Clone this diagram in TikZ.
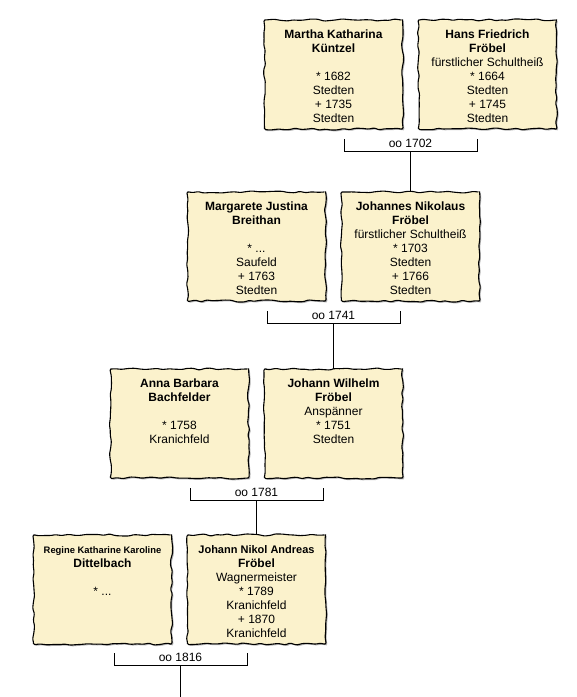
\documentclass[tikz,border=0pt]{standalone}
\usepackage{fontspec}
\setmainfont{Liberation Sans}
\usetikzlibrary{decorations.pathmorphing,shadows}
\definecolor{parch}{HTML}{FBF2CC}
\newcommand{\parchtext}[1]{\parbox[c][109pt][t]{138pt}{\centering\fontsize{12}{14}\selectfont\rule{0pt}{18.5pt}#1}}
\tikzset{
  person/.style={rectangle, draw=black, line width=1.1pt, fill=parch,
    inner sep=0pt, outer sep=0pt,
    decorate, decoration={random steps, segment length=6pt, amplitude=1.1pt},
    rounded corners=1.2pt,
    drop shadow={shadow xshift=1.3pt, shadow yshift=-1.3pt, opacity=0.3, fill=black}},
  bracket/.style={draw=black, line width=0.8pt},
  marr/.style={anchor=base, inner sep=0pt, font=\fontsize{12}{14}\selectfont}
}
\begin{document}
\begin{tikzpicture}[x=1pt, y=-1pt]
\pgfmathsetseed{4711}
\useasboundingbox (0,0) rectangle (577,697);
% row 1 (top 20)
\node[person] (martha) at (333.5,74.5) {\parchtext{\textbf{Martha Katharina}\\\textbf{Küntzel}\\\mbox{}\\{*} 1682\\Stedten\\+ 1735\\Stedten}};
\node[person] (hans) at (487.5,74.5) {\parchtext{\textbf{Hans Friedrich}\\\textbf{Fröbel}\\fürstlicher Schultheiß\\{*} 1664\\Stedten\\+ 1745\\Stedten}};
% row 2 (top 192)
\node[person] (margarete) at (256.5,246.5) {\parchtext{\textbf{Margarete Justina}\\\textbf{Breithan}\\\mbox{}\\{*} ...\\Saufeld\\+ 1763\\Stedten}};
\node[person] (johannes) at (410.5,246.5) {\parchtext{\textbf{Johannes Nikolaus}\\\textbf{Fröbel}\\fürstlicher Schultheiß\\{*} 1703\\Stedten\\+ 1766\\Stedten}};
% row 3 (top 369)
\node[person] (anna) at (179.5,423.5) {\parchtext{\textbf{Anna Barbara}\\\textbf{Bachfelder}\\\mbox{}\\{*} 1758\\Kranichfeld}};
\node[person] (wilhelm) at (333.5,423.5) {\parchtext{\textbf{Johann Wilhelm}\\\textbf{Fröbel}\\Anspänner\\{*} 1751\\Stedten}};
% row 4 (top 535)
\node[person] (regine) at (102.5,589.5) {\parchtext{{\fontsize{9.4}{14}\selectfont\textbf{Regine Katharine Karoline}}\\\textbf{Dittelbach}\\\mbox{}\\{*} ...}};
\node[person] (nikol) at (256.5,589.5) {\parchtext{{\fontsize{11}{14}\selectfont\textbf{Johann Nikol Andreas}}\\\textbf{Fröbel}\\Wagnermeister\\{*} 1789\\Kranichfeld\\+ 1870\\Kranichfeld}};
% marriage brackets
\coordinate (b1l) at (344,139); \coordinate (b1r) at (477,139); \coordinate (b1m) at (410.5,151);
\coordinate (b2l) at (267,311); \coordinate (b2r) at (400,311); \coordinate (b2m) at (333.5,323);
\coordinate (b3l) at (190,488); \coordinate (b3r) at (323,488); \coordinate (b3m) at (256.5,500);
\coordinate (b4l) at (114,653); \coordinate (b4r) at (247,653); \coordinate (b4m) at (180.5,665);
\coordinate (end) at (180.5,697);
\foreach \b in {b1,b2,b3,b4}{
  \draw[bracket] (\b l) -- (\b l |- \b m) -- (\b r |- \b m) -- (\b r);
}
\node[marr] (m1) at ([yshift=3.5pt]b1m) {oo 1702};
\node[marr] (m2) at ([yshift=3.5pt]b2m) {oo 1741};
\node[marr] (m3) at ([yshift=3.5pt]b3m) {oo 1781};
\node[marr] (m4) at ([yshift=3.5pt]b4m) {oo 1816};
\draw[bracket] (b1m) -- (johannes.north);
\draw[bracket] (b2m) -- (wilhelm.north);
\draw[bracket] (b3m) -- (nikol.north);
\draw[bracket] (b4m) -- (end);
\end{tikzpicture}
\end{document}
